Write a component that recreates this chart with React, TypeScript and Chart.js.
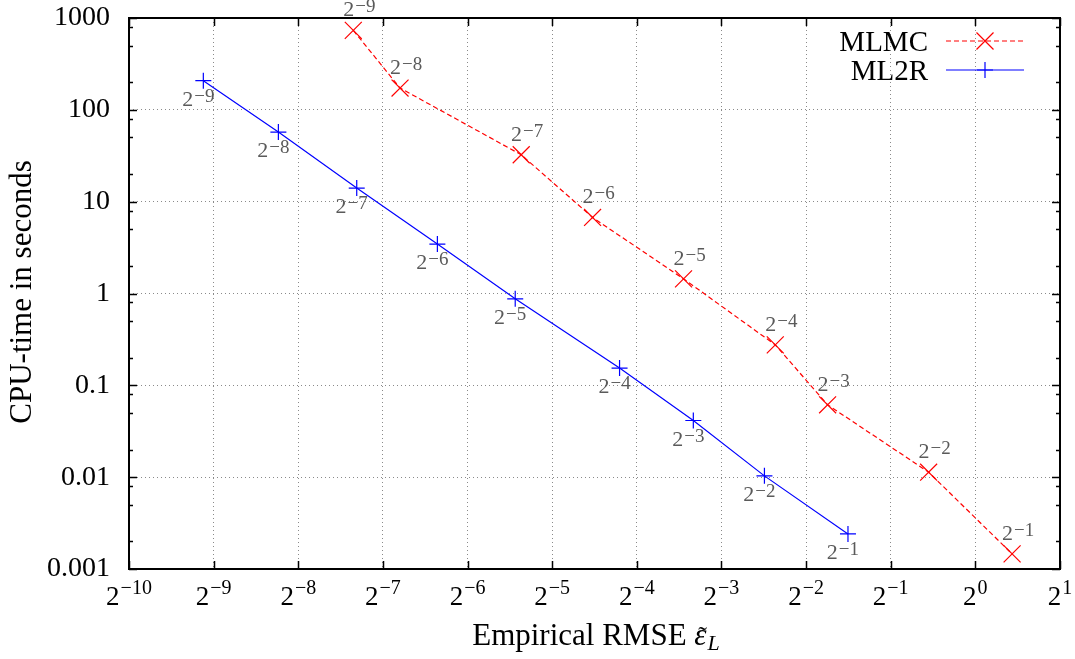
import React, { useEffect, useRef } from "react";
import { Chart, registerables } from "chart.js";

Chart.register(...registerables);

// ---- data ----
const LEVEL_EXPONENTS = [-9, -8, -7, -6, -5, -4, -3, -2, -1];
const MLMC_RMSE = [0.00613, 0.00899, 0.02425, 0.0435, 0.09163, 0.19425, 0.29815, 0.68205, 1.3511];
const MLMC_TIME = [733, 172.7, 32.4, 6.73, 1.445, 0.276, 0.0614, 0.01133, 0.00146];
const ML2R_RMSE = [0.001795, 0.003319, 0.006305, 0.012205, 0.023088, 0.054263, 0.099275, 0.17773, 0.3523];
const ML2R_TIME = [207.5, 57.3, 14.06, 3.45, 0.875, 0.154, 0.0414, 0.01033, 0.00241];
const X_TICK_EXPONENTS = [-10, -9, -8, -7, -6, -5, -4, -3, -2, -1, 0, 1];
const Y_TICKS = [0.001, 0.01, 0.1, 1, 10, 100, 1000];
const Y_TICK_LABELS = ["0.001", "0.01", "0.1", "1", "10", "100", "1000"];
const Y_MINOR_MULTIPLIERS = [2, 5, 8];
const SERIES_NAMES = ["MLMC", "ML2R"];
const X_TITLE = "Empirical RMSE ";
const Y_TITLE = "CPU-time in seconds";

const FONT = '"Liberation Serif", "DejaVu Serif", serif';
const RED = "#ff0000";
const BLUE = "#0000ff";
const LABEL_GRAY = "#5a5a5a";

function supText(exp: number): string {
  return exp < 0 ? "\u2212" + Math.abs(exp) : String(exp);
}

function drawPow(
  ctx: CanvasRenderingContext2D,
  cx: number,
  baseline: number,
  exp: string,
  baseSize: number,
  expSize: number,
  raise: number,
  color: string
) {
  ctx.save();
  ctx.fillStyle = color;
  ctx.textAlign = "left";
  ctx.textBaseline = "alphabetic";
  ctx.font = `${baseSize}px ${FONT}`;
  const wb = ctx.measureText("2").width;
  ctx.font = `${expSize}px ${FONT}`;
  const we = ctx.measureText(exp).width;
  const gap = 1;
  const x = cx - (wb + gap + we) / 2;
  ctx.font = `${baseSize}px ${FONT}`;
  ctx.fillText("2", x, baseline);
  ctx.font = `${expSize}px ${FONT}`;
  ctx.fillText(exp, x + wb + gap, baseline - raise);
  ctx.restore();
}

function drawMarker(ctx: CanvasRenderingContext2D, kind: "x" | "+", x: number, y: number, color: string) {
  ctx.save();
  ctx.strokeStyle = color;
  ctx.lineWidth = 1.2;
  ctx.setLineDash([]);
  ctx.beginPath();
  if (kind === "+") {
    ctx.moveTo(x - 8, y);
    ctx.lineTo(x + 8, y);
    ctx.moveTo(x, y - 8);
    ctx.lineTo(x, y + 8);
  } else {
    const d = 8.5;
    ctx.moveTo(x - d, y - d);
    ctx.lineTo(x + d, y + d);
    ctx.moveTo(x - d, y + d);
    ctx.lineTo(x + d, y - d);
  }
  ctx.stroke();
  ctx.restore();
}

const decorPlugin = {
  id: "decor",
  afterDatasetsDraw(chart: any) {
    const ctx: CanvasRenderingContext2D = chart.ctx;
    chart.data.datasets.forEach((ds: any, di: number) => {
      const meta = chart.getDatasetMeta(di);
      meta.data.forEach((pt: any, j: number) => {
        const exp = supText(LEVEL_EXPONENTS[j]);
        if (di === 0) {
          drawPow(ctx, pt.x + 6, pt.y - 14, exp, 22, 19, 4, LABEL_GRAY);
        } else {
          drawPow(ctx, pt.x - 5, pt.y + 25, exp, 22, 19, 4, LABEL_GRAY);
        }
      });
    });
  },
  afterDraw(chart: any) {
    const ctx: CanvasRenderingContext2D = chart.ctx;
    const a = chart.chartArea;
    const xs = chart.scales.x;
    const ys = chart.scales.y;
    ctx.save();
    // ticks
    ctx.strokeStyle = "#000";
    ctx.lineWidth = 1.5;
    ctx.setLineDash([]);
    ctx.beginPath();
    X_TICK_EXPONENTS.forEach((e) => {
      const px = Math.round(xs.getPixelForValue(Math.pow(2, e))) + 0.5;
      ctx.moveTo(px, a.bottom);
      ctx.lineTo(px, a.bottom - 8);
      ctx.moveTo(px, a.top);
      ctx.lineTo(px, a.top + 8);
    });
    Y_TICKS.forEach((v) => {
      const py = Math.round(ys.getPixelForValue(v)) + 0.5;
      ctx.moveTo(a.left, py);
      ctx.lineTo(a.left + 8, py);
      ctx.moveTo(a.right, py);
      ctx.lineTo(a.right - 8, py);
      if (v < 1000) {
        Y_MINOR_MULTIPLIERS.forEach((m) => {
          const qy = Math.round(ys.getPixelForValue(v * m)) + 0.5;
          ctx.moveTo(a.left, qy);
          ctx.lineTo(a.left + 4, qy);
          ctx.moveTo(a.right, qy);
          ctx.lineTo(a.right - 4, qy);
        });
      }
    });
    ctx.stroke();
    // border
    ctx.lineWidth = 2;
    ctx.strokeRect(a.left, a.top, a.right - a.left, a.bottom - a.top);

    // x tick labels
    X_TICK_EXPONENTS.forEach((e) => {
      const px = xs.getPixelForValue(Math.pow(2, e));
      drawPow(ctx, px, 605, supText(e), 27, 20, 11, "#000");
    });

    // y title
    ctx.save();
    ctx.translate(23, 292);
    ctx.rotate(-Math.PI / 2);
    ctx.fillStyle = "#000";
    ctx.font = `31px ${FONT}`;
    ctx.textAlign = "center";
    ctx.textBaseline = "middle";
    ctx.fillText(Y_TITLE, 0, 0);
    ctx.restore();

    // x title
    ctx.fillStyle = "#000";
    ctx.textAlign = "left";
    ctx.textBaseline = "alphabetic";
    ctx.font = `31px ${FONT}`;
    const w1 = ctx.measureText(X_TITLE).width;
    ctx.font = `italic 31px ${FONT}`;
    const w2 = ctx.measureText("\u03b5").width;
    ctx.font = `italic 22px ${FONT}`;
    const w3 = ctx.measureText("L").width;
    const total = w1 + w2 + w3 + 1;
    let tx = 596 - total / 2;
    const base = 645;
    ctx.font = `31px ${FONT}`;
    ctx.fillText(X_TITLE, tx, base);
    tx += w1;
    ctx.font = `italic 31px ${FONT}`;
    ctx.fillText("\u03b5", tx, base);
    ctx.font = `26px ${FONT}`;
    ctx.textAlign = "center";
    ctx.fillText("\u02dc", tx + w2 / 2 + 2, base - 1);
    ctx.textAlign = "left";
    tx += w2 + 1;
    ctx.font = `italic 22px ${FONT}`;
    ctx.fillText("L", tx, base + 5);

    // legend
    const rows = [
      { y: 41, color: RED, dash: [5, 3], marker: "x" as const },
      { y: 70, color: BLUE, dash: [] as number[], marker: "+" as const },
    ];
    rows.forEach((r, i) => {
      ctx.fillStyle = "#000";
      ctx.font = `29px ${FONT}`;
      ctx.textAlign = "right";
      ctx.textBaseline = "alphabetic";
      ctx.fillText(SERIES_NAMES[i], 928, r.y + 9.5);
      ctx.strokeStyle = r.color;
      ctx.lineWidth = 1.2;
      ctx.setLineDash(r.dash);
      ctx.beginPath();
      ctx.moveTo(946, r.y);
      ctx.lineTo(1024, r.y);
      ctx.stroke();
      ctx.setLineDash([]);
      drawMarker(ctx, r.marker, 985, r.y, r.color);
    });
    ctx.restore();
  },
};

export default function App() {
  const ref = useRef<HTMLCanvasElement | null>(null);
  useEffect(() => {
    if (!ref.current) return;
    const chart = new Chart(ref.current, {
      type: "line",
      data: {
        datasets: [
          {
            label: SERIES_NAMES[0],
            data: MLMC_RMSE.map((x, i) => ({ x, y: MLMC_TIME[i] })),
            borderColor: RED,
            backgroundColor: RED,
            borderWidth: 1.2,
            borderDash: [5, 3],
            pointStyle: "crossRot",
            pointRadius: 12,
            pointBorderWidth: 1.2,
            pointBorderColor: RED,
            fill: false,
            tension: 0,
          },
          {
            label: SERIES_NAMES[1],
            data: ML2R_RMSE.map((x, i) => ({ x, y: ML2R_TIME[i] })),
            borderColor: BLUE,
            backgroundColor: BLUE,
            borderWidth: 1.2,
            pointStyle: "cross",
            pointRadius: 8,
            pointBorderWidth: 1.2,
            pointBorderColor: BLUE,
            fill: false,
            tension: 0,
          },
        ],
      },
      options: {
        animation: false,
        responsive: false,
        devicePixelRatio: 1,
        events: [],
        layout: { padding: { left: 0, right: 15, top: 18, bottom: 0 } },
        plugins: { legend: { display: false }, tooltip: { enabled: false } },
        scales: {
          x: {
            type: "logarithmic",
            min: Math.pow(2, -10),
            max: 2,
            afterBuildTicks: (s: any) => {
              s.ticks = X_TICK_EXPONENTS.map((e) => ({ value: Math.pow(2, e) }));
            },
            afterFit: (s: any) => {
              s.height = 90;
              s.paddingLeft = 0;
              s.paddingRight = 0;
            },
            ticks: { display: false },
            grid: { color: "#8a8a8a", lineWidth: 1, drawTicks: false },
            border: { display: false, dash: [1, 3] },
          },
          y: {
            type: "logarithmic",
            min: 0.001,
            max: 1000,
            afterBuildTicks: (s: any) => {
              s.ticks = Y_TICKS.map((v) => ({ value: v }));
            },
            afterFit: (s: any) => {
              s.width = 129;
              s.paddingTop = 0;
              s.paddingBottom = 0;
            },
            ticks: {
              autoSkip: false,
              padding: 19,
              color: "#000",
              font: { family: FONT, size: 28 },
              callback: (_v: any, i: number) => Y_TICK_LABELS[i],
            },
            grid: { color: "#8a8a8a", lineWidth: 1, drawTicks: false },
            border: { display: false, dash: [1, 3] },
          },
        },
      } as any,
      plugins: [decorPlugin],
    });
    return () => chart.destroy();
  }, []);
  return (
    <div style={{ position: "absolute", left: 0, top: 0, width: 1075, height: 659, background: "#fff" }}>
      <canvas ref={ref} width={1075} height={659} />
    </div>
  );
}
